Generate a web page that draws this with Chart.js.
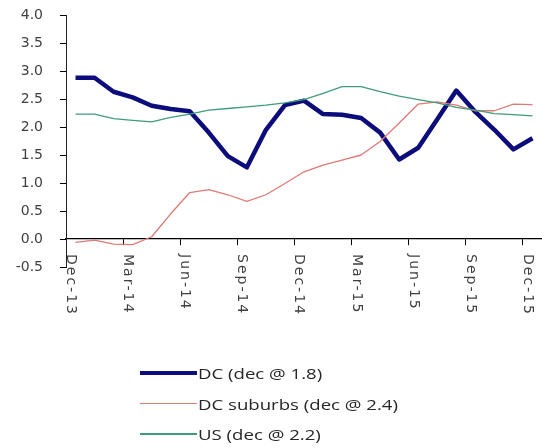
<!DOCTYPE html>
<html>
<head>
<meta charset="utf-8">
<script src="https://cdn.jsdelivr.net/npm/chart.js@4/dist/chart.umd.min.js"></script>
<style>
  html, body { margin: 0; padding: 0; background: #fff; }
  #wrap { position: relative; width: 542px; height: 448px; overflow: hidden; }
  #legend { position: absolute; left: 0; top: 0; width: 542px; height: 448px; pointer-events: none; }
  .row { position: absolute; left: 140px; height: 30px; display: flex; align-items: center; }
  .swatch { width: 57px; display: inline-block; }
  .txt { display: inline-block; margin-left: 1px; font-family: "Open Sans", sans-serif; font-size: 15px;
         color: #262626; transform: scaleX(1.24); transform-origin: left center; white-space: nowrap; }
</style>
</head>
<body>
<div id="wrap">
  <canvas id="chart" width="542" height="448"></canvas>
  <div id="legend"></div>
</div>
<script>
// Monthly categories, Dec-13 through Dec-15
const months = ['Dec-13','Jan-14','Feb-14','Mar-14','Apr-14','May-14','Jun-14','Jul-14','Aug-14','Sep-14',
                'Oct-14','Nov-14','Dec-14','Jan-15','Feb-15','Mar-15','Apr-15','May-15','Jun-15','Jul-15',
                'Aug-15','Sep-15','Oct-15','Nov-15','Dec-15'];

// Quarterly axis labels
const xTickLabels = ['Dec-13','Mar-14','Jun-14','Sep-14','Dec-14','Mar-15','Jun-15','Sep-15','Dec-15'];

// Year-over-year growth, percent
const dcValues = [2.88, 2.88, 2.63, 2.53, 2.38, 2.32, 2.28, 1.90, 1.48, 1.28,
                  1.95, 2.39, 2.47, 2.23, 2.22, 2.16, 1.90, 1.42, 1.63, 2.14,
                  2.65, 2.27, 1.95, 1.60, 1.8];
const suburbValues = [-0.06, -0.02, -0.09, -0.10, 0.04, 0.45, 0.83, 0.88, 0.79, 0.67,
                      0.79, 0.99, 1.20, 1.32, 1.41, 1.50, 1.74, 2.07, 2.41, 2.45,
                      2.39, 2.29, 2.29, 2.41, 2.4];
const usValues = [2.23, 2.23, 2.15, 2.12, 2.09, 2.17, 2.23, 2.30, 2.33, 2.36,
                  2.39, 2.43, 2.49, 2.60, 2.72, 2.72, 2.63, 2.55, 2.49, 2.43,
                  2.35, 2.30, 2.24, 2.22, 2.2];

const seriesLabels = ['DC (dec @ 1.8)', 'DC suburbs (dec @ 2.4)', 'US (dec @ 2.2)'];

// each month sits in the middle of its slot; quarter ticks mark slot edges
const toPoints = vals => vals.map((v, i) => ({ x: i + 0.5, y: v }));

// quarter labels written top-to-bottom, hanging from each tick
const verticalMonthLabels = {
  id: 'verticalMonthLabels',
  afterDraw(chart) {
    const { ctx, scales: { x, y } } = chart;
    const top = y.getPixelForValue(0) + 15;
    ctx.save();
    ctx.font = '14px "DejaVu Sans"';
    ctx.fillStyle = '#404040';
    ctx.textAlign = 'left';
    ctx.textBaseline = 'alphabetic';
    if ('letterSpacing' in ctx) ctx.letterSpacing = '2px';
    x.ticks.forEach((t, i) => {
      const label = xTickLabels[i];
      if (!label) return;
      const px = x.getPixelForValue(t.value) + 1;
      ctx.save();
      ctx.translate(px, top);
      ctx.rotate(Math.PI / 2);
      ctx.fillText(label, 0, 0);
      ctx.restore();
    });
    ctx.restore();
  }
};

const chart = new Chart(document.getElementById('chart'), {
  type: 'line',
  data: {
    datasets: [
      { label: seriesLabels[0], data: toPoints(dcValues), borderColor: '#0c0c7c', borderWidth: 4.5, order: 3 },
      { label: seriesLabels[1], data: toPoints(suburbValues), borderColor: '#dc7a76', borderWidth: 1.3, order: 2 },
      { label: seriesLabels[2], data: toPoints(usValues), borderColor: '#3e9c78', borderWidth: 1.3, order: 1 }
    ]
  },
  options: {
    responsive: false,
    animation: false,
    layout: { padding: { top: 15, right: 0, bottom: 181, left: 0 } },
    elements: {
      point: { radius: 0, hoverRadius: 0 },
      line: { tension: 0, borderJoinStyle: 'round', borderCapStyle: 'butt', fill: false }
    },
    plugins: { legend: { display: false }, tooltip: { enabled: false } },
    scales: {
      x: {
        type: 'linear',
        min: 0,
        max: months.length,
        position: { y: 0 },
        afterBuildTicks: s => { s.ticks = xTickLabels.map((_, i) => ({ value: i * 3 })); },
        afterFit: s => { s.height = 0; },
        ticks: { display: true, autoSkip: false, maxRotation: 0, callback: () => '' },
        grid: { drawOnChartArea: false, drawTicks: true, tickLength: 6, color: '#000', lineWidth: 1 },
        border: { color: '#000', width: 1.2 }
      },
      y: {
        min: -0.5,
        max: 4,
        afterFit: s => { s.width = 66; s.paddingTop = 0; s.paddingBottom = 0; },
        ticks: {
          stepSize: 0.5,
          padding: 17,
          color: '#404040',
          font: { family: 'DejaVu Sans', size: 14 },
          callback: v => Number(v).toFixed(1)
        },
        grid: { drawOnChartArea: false, drawTicks: true, tickLength: 6, color: '#000', lineWidth: 1 },
        border: { color: '#222', width: 1, dash: [2, 2] }
      }
    }
  },
  plugins: [verticalMonthLabels]
});

// Stacked legend below the plot
const legend = document.getElementById('legend');
chart.data.datasets.forEach((ds, i) => {
  const row = document.createElement('div');
  row.className = 'row';
  row.style.top = (358 + i * 30.5) + 'px';
  const sw = document.createElement('span');
  sw.className = 'swatch';
  sw.style.height = (ds.borderWidth > 2 ? 4 : 1.3) + 'px';
  sw.style.background = ds.borderColor;
  const tx = document.createElement('span');
  tx.className = 'txt';
  tx.textContent = ds.label;
  row.appendChild(sw);
  row.appendChild(tx);
  legend.appendChild(row);
});
</script>
</body>
</html>
